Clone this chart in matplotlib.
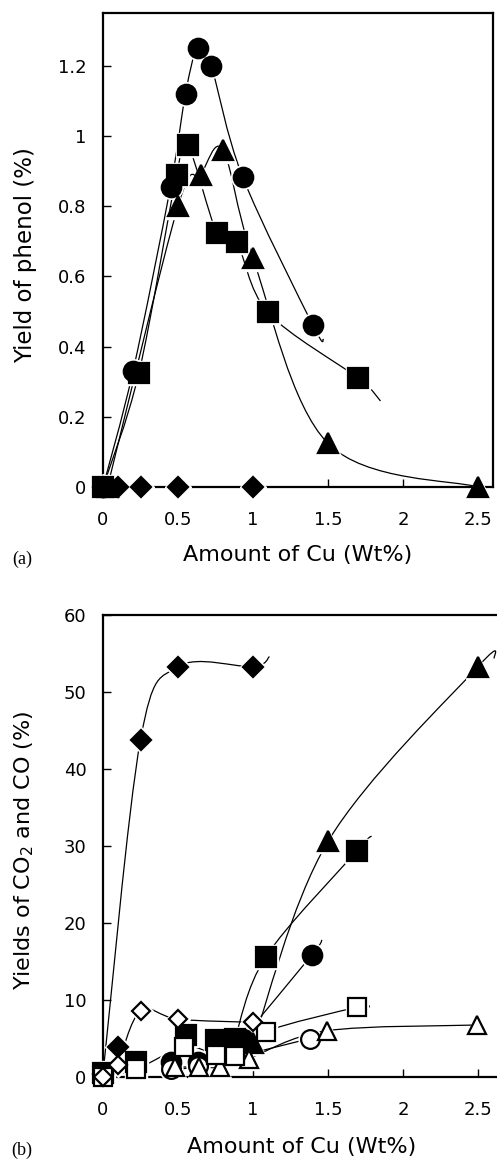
import numpy as np
import matplotlib
matplotlib.use("Agg")
import matplotlib.pyplot as plt
from matplotlib.path import Path
from matplotlib.patches import PathPatch

# ---- panel (a): yield of phenol ----
a_circ_x = [0, 0.2, 0.45, 0.55, 0.63, 0.72, 0.93, 1.4]
a_circ_y = [0, 0.33, 0.855, 1.12, 1.25, 1.20, 0.884, 0.46]
a_circ_tail = (1.47, 0.42)

a_sq_x = [0, 0.24, 0.49, 0.565, 0.76, 0.89, 1.1, 1.7]
a_sq_y = [0, 0.326, 0.889, 0.974, 0.723, 0.699, 0.497, 0.31]
a_sq_tail = (1.85, 0.245)

a_tri_x = [0.03, 0.5, 0.65, 0.8, 1.0, 1.5, 2.5]
a_tri_y = [0, 0.80, 0.89, 0.96, 0.651, 0.124, 0.0]

a_dia_x = [0, 0.1, 0.25, 0.5, 1.0]
a_dia_y = [0, 0, 0, 0, 0]

# ---- panel (b): yields of CO2 (filled) and CO (open) ----
b_dia_x = [0, 0.1, 0.25, 0.5, 1.0]
b_dia_y = [0.4, 3.9, 43.8, 53.3, 53.3]
b_dia_tail = (1.11, 54.6)
b_odia_x = [0, 0.1, 0.25, 0.5, 1.0]
b_odia_y = [0, 1.6, 8.6, 7.5, 7.1]

b_sq_x = [0, 0.22, 0.55, 0.75, 0.88, 1.085, 1.69]
b_sq_y = [0.5, 2.0, 5.5, 4.8, 5.0, 15.6, 29.3]
b_sq_tail = (1.79, 31.3)
b_osq_x = [0, 0.22, 0.54, 0.75, 0.88, 1.085, 1.69]
b_osq_y = [0, 1.0, 3.9, 2.9, 2.7, 5.9, 9.05]
b_osq_tail = (1.78, 9.1)

b_circ_x = [0.45, 0.63, 0.93, 1.39]
b_circ_y = [2.0, 2.0, 5.0, 15.8]
b_circ_tail = (1.46, 17.8)
b_ocirc_x = [0.45, 0.63, 1.38]
b_ocirc_y = [1.1, 1.4, 5.0]

b_tri_x = [0.8, 1.0, 1.5, 2.5]
b_tri_y = [4.6, 4.4, 30.6, 53.3]
b_tri_tail = (2.61, 54.4)
b_otri_x = [0.48, 0.64, 0.78, 0.97, 1.49, 2.49]
b_otri_y = [1.3, 1.3, 1.3, 2.4, 6.0, 6.75]

xticks = [0, 0.5, 1, 1.5, 2, 2.5]
xticklabels = ["0", "0.5", "1", "1.5", "2", "2.5"]
a_yticks = [0, 0.2, 0.4, 0.6, 0.8, 1.0, 1.2]
a_yticklabels = ["0", "0.2", "0.4", "0.6", "0.8", "1", "1.2"]
b_yticks = [0, 10, 20, 30, 40, 50, 60]


def smooth(ax, xs, ys, tail=None, start=0):
    # catmull-rom through the points, drawn as bezier path
    pts = np.column_stack([xs[start:], ys[start:]]).astype(float)
    if tail is not None:
        pts = np.vstack([pts, tail])
    verts = [pts[0]]
    codes = [Path.MOVETO]
    n = len(pts)
    for i in range(n - 1):
        p0 = pts[i - 1] if i > 0 else pts[i]
        p1 = pts[i]
        p2 = pts[i + 1]
        p3 = pts[i + 2] if i + 2 < n else p2
        verts += [p1 + (p2 - p0) / 6.0, p2 - (p3 - p1) / 6.0, p2]
        codes += [Path.CURVE4] * 3
    ax.add_patch(PathPatch(Path(verts, codes), fill=False, lw=0.9,
                           color="black", transform=ax.transData,
                           clip_on=False, zorder=2))


def marks(ax, xs, ys, m, ms, filled=True):
    ax.plot(xs, ys, ls="none", marker=m, ms=ms + 3, color="white",
            mec="white", clip_on=False, zorder=3)
    ax.plot(xs, ys, ls="none", marker=m, ms=ms,
            mfc="black" if filled else "white", mec="black",
            mew=1.6, clip_on=False, zorder=4)


def style(ax, xmax, ymax, yticks, yticklabels):
    ax.set_xlim(0, xmax)
    ax.set_ylim(0, ymax)
    ax.set_xticks(xticks)
    ax.set_xticklabels(xticklabels)
    ax.set_yticks(yticks)
    ax.set_yticklabels(yticklabels)
    ax.tick_params(direction="in", length=6, width=1, labelsize=13)
    ax.tick_params(axis="x", pad=17)
    ax.tick_params(axis="y", pad=12)
    for s in ax.spines.values():
        s.set_linewidth(1.6)


plt.rcParams["font.family"] = ["DejaVu Sans"]
fig = plt.figure(figsize=(4.97, 11.59), dpi=100)

# panel (a)
ax1 = fig.add_axes([103 / 497, 1 - 487 / 1159, 390 / 497, 474 / 1159])
style(ax1, 2.6, 1.35, a_yticks, a_yticklabels)
smooth(ax1, a_circ_x, a_circ_y, a_circ_tail)
smooth(ax1, a_sq_x, a_sq_y, a_sq_tail)
smooth(ax1, a_tri_x, a_tri_y)
marks(ax1, a_circ_x, a_circ_y, "o", 14)
marks(ax1, a_tri_x, a_tri_y, "^", 15)
marks(ax1, a_sq_x, a_sq_y, "s", 14.5)
marks(ax1, a_dia_x, a_dia_y, "D", 10.5)
ax1.set_xlabel("Amount of Cu (Wt%)", fontsize=16)
ax1.xaxis.set_label_coords(0.5, -0.122)
ax1.set_ylabel("Yield of phenol (%)", fontsize=16.5)
ax1.yaxis.set_label_coords(-0.17, 0.49)
fig.text(22 / 497, 1 - 559 / 1159, "(a)", family="Liberation Serif",
         fontsize=13, ha="center", va="center")

# panel (b)
ax2 = fig.add_axes([103 / 497, 1 - 1077 / 1159, 405 / 497, 462 / 1159])
style(ax2, 2.7, 60, b_yticks, [str(v) for v in b_yticks])
ax2.spines["right"].set_visible(False)
smooth(ax2, [b_dia_x[0]] + b_dia_x[2:], [b_dia_y[0]] + b_dia_y[2:], b_dia_tail)
smooth(ax2, b_odia_x, b_odia_y, start=1)
smooth(ax2, b_sq_x, b_sq_y, b_sq_tail, start=4)
smooth(ax2, b_osq_x, b_osq_y, b_osq_tail)
smooth(ax2, b_circ_x, b_circ_y, b_circ_tail, start=2)
smooth(ax2, b_ocirc_x, b_ocirc_y)
smooth(ax2, b_tri_x, b_tri_y, b_tri_tail, start=1)
smooth(ax2, b_otri_x, b_otri_y)
marks(ax2, b_dia_x, b_dia_y, "D", 10.5)
marks(ax2, b_circ_x, b_circ_y, "o", 14)
marks(ax2, b_sq_x, b_sq_y, "s", 14)
marks(ax2, b_tri_x, b_tri_y, "^", 14.5)
marks(ax2, b_ocirc_x, b_ocirc_y, "o", 13.5, filled=False)
marks(ax2, b_otri_x, b_otri_y, "^", 13.5, filled=False)
marks(ax2, b_osq_x, b_osq_y, "s", 13.5, filled=False)
marks(ax2, b_odia_x, b_odia_y, "D", 9.5, filled=False)
ax2.set_xlabel("Amount of Cu (Wt%)", fontsize=16)
ax2.xaxis.set_label_coords(0.49, -0.13)
ax2.set_ylabel("Yields of CO$_2$ and CO (%)", fontsize=16)
ax2.yaxis.set_label_coords(-0.165, 0.49)
fig.text(22 / 497, 1 - 1150 / 1159, "(b)", family="Liberation Serif",
         fontsize=13, ha="center", va="center")

fig.savefig("out.png", dpi=100)
